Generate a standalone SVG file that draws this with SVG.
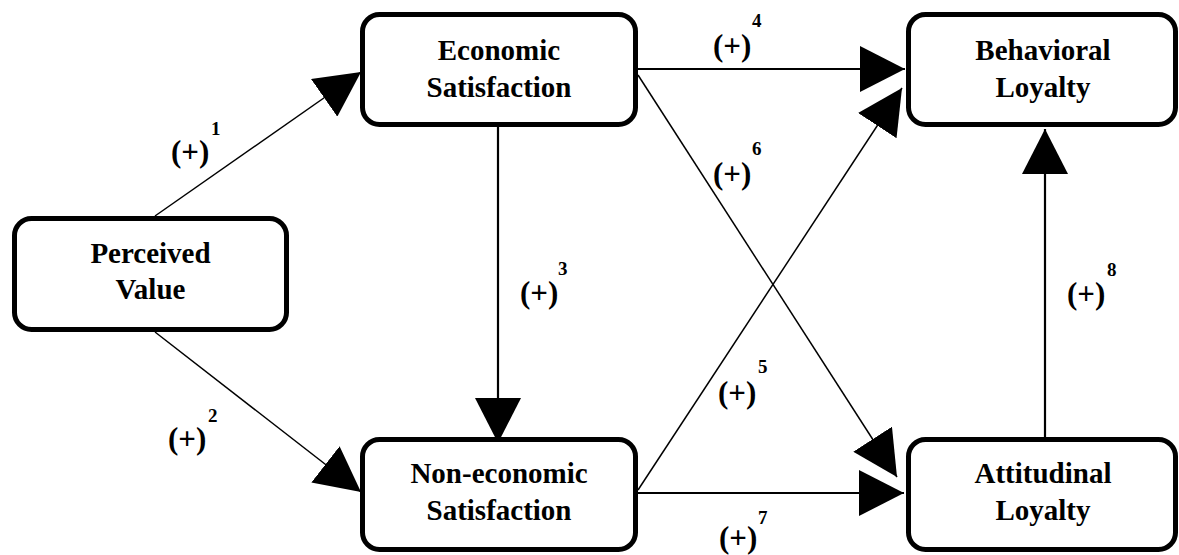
<svg xmlns="http://www.w3.org/2000/svg" width="1179" height="555" viewBox="0 0 1179 555">
<style>
.box{fill:#fff;stroke:#000;stroke-width:5}
.lbl{font-family:"Liberation Serif","Times New Roman",serif;font-weight:bold;font-size:29px;text-anchor:middle;fill:#000}
.pm{font-family:"Liberation Serif","Times New Roman",serif;font-weight:bold;font-size:31px;fill:#000}
.sup{font-family:"Liberation Serif","Times New Roman",serif;font-weight:bold;font-size:19px;fill:#000}
.c{stroke:#000;fill:none;marker-end:url(#ah)}
.d{stroke-width:1.5}
.s{stroke-width:2.2}
</style>
<defs>
<marker id="ah" markerUnits="userSpaceOnUse" markerWidth="46" markerHeight="46" refX="45" refY="23" orient="auto">
<path d="M0,0 L45,23 L0,46 Z" fill="#000"/>
</marker>
</defs>
<rect width="1179" height="555" fill="#fff"/>
<g id="connectors">
<line class="c d" x1="155" y1="216" x2="361" y2="72"/>
<line class="c d" x1="155" y1="332" x2="361" y2="492"/>
<line class="c s" x1="498" y1="127" x2="498" y2="443"/>
<line class="c s" x1="638" y1="69" x2="905" y2="69"/>
<line class="c d" x1="638" y1="490" x2="902" y2="88"/>
<line class="c d" x1="638" y1="75" x2="897" y2="477"/>
<line class="c s" x1="638" y1="493" x2="904" y2="493"/>
<line class="c s" x1="1045" y1="437" x2="1045" y2="129"/>
</g>
<g id="labels">
<text class="pm" x="171" y="162">(+)</text><text class="sup" x="211" y="135">1</text>
<text class="pm" x="168" y="449">(+)</text><text class="sup" x="208" y="422">2</text>
<text class="pm" x="520" y="303">(+)</text><text class="sup" x="558" y="275">3</text>
<text class="pm" x="713" y="56">(+)</text><text class="sup" x="752" y="27">4</text>
<text class="pm" x="718" y="403">(+)</text><text class="sup" x="758" y="373">5</text>
<text class="pm" x="713" y="184">(+)</text><text class="sup" x="752" y="155">6</text>
<text class="pm" x="719" y="548">(+)</text><text class="sup" x="758" y="524">7</text>
<text class="pm" x="1067" y="304">(+)</text><text class="sup" x="1107" y="276">8</text>
</g>
<g id="perceived-value">
<rect class="box" x="14.5" y="218.5" width="272" height="111" rx="17"/>
<text class="lbl" x="150.5" y="263">Perceived</text>
<text class="lbl" x="150.5" y="299">Value</text>
</g>
<g id="economic-satisfaction">
<rect class="box" x="362.5" y="14.5" width="273" height="110" rx="17"/>
<text class="lbl" x="499" y="60">Economic</text>
<text class="lbl" x="499" y="97">Satisfaction</text>
</g>
<g id="non-economic-satisfaction">
<rect class="box" x="362.5" y="439.5" width="273" height="110" rx="17"/>
<text class="lbl" x="499" y="483">Non-economic</text>
<text class="lbl" x="499" y="520">Satisfaction</text>
</g>
<g id="behavioral-loyalty">
<rect class="box" x="908.5" y="14.5" width="267" height="110" rx="17"/>
<text class="lbl" x="1043" y="60">Behavioral</text>
<text class="lbl" x="1043" y="97">Loyalty</text>
</g>
<g id="attitudinal-loyalty">
<rect class="box" x="908.5" y="439.5" width="267" height="110" rx="17"/>
<text class="lbl" x="1043" y="483">Attitudinal</text>
<text class="lbl" x="1043" y="520">Loyalty</text>
</g>
</svg>
